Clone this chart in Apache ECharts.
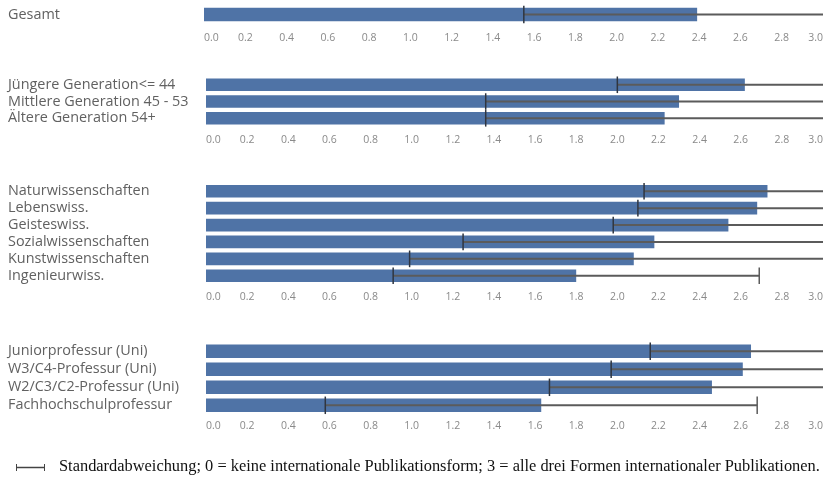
<!DOCTYPE html>
<html><head><meta charset="utf-8">
<script src="https://cdn.jsdelivr.net/npm/echarts@6/dist/echarts.min.js"></script>
<style>html,body{margin:0;padding:0;background:#fff}#c{width:827px;height:479px}</style>
</head><body><div id="c"></div>
<script>
// ---- data ----
var cats1 = ['Gesamt'];
var mean1 = [2.39];
var sd1 = [0.84];
var cats2 = ['Jüngere Generation<= 44', 'Mittlere Generation 45 - 53', 'Ältere Generation 54+'];
var mean2 = [2.62, 2.30, 2.23];
var sd2 = [0.62, 0.94, 0.87];
var cats3 = ['Naturwissenschaften', 'Lebenswiss.', 'Geisteswiss.', 'Sozialwissenschaften', 'Kunstwissenschaften', 'Ingenieurwiss.'];
var mean3 = [2.73, 2.68, 2.54, 2.18, 2.08, 1.80];
var sd3 = [0.60, 0.58, 0.56, 0.93, 1.09, 0.89];
var cats4 = ['Juniorprofessur (Uni)', 'W3/C4-Professur (Uni)', 'W2/C3/C2-Professur (Uni)', 'Fachhochschulprofessur'];
var mean4 = [2.65, 2.61, 2.46, 1.63];
var sd4 = [0.49, 0.64, 0.79, 1.05];
var xMin = 0, xMax = 3, xStep = 0.2;
var legendText = 'Standardabweichung; 0 = keine internationale Publikationsform; 3 = alle drei Formen internationaler Publikationen.';

// ---- layout ----
var groups = [
  {cats: cats1, mean: mean1, sd: sd1, top: 5.5, height: 18, left: 204, margin: 9},
  {cats: cats2, mean: mean2, sd: sd2, top: 76.4, height: 50.3, left: 206, margin: 8},
  {cats: cats3, mean: mean3, sd: sd3, top: 182.8, height: 101.4, left: 206, margin: 7},
  {cats: cats4, mean: mean4, sd: sd4, top: 342.3, height: 72, left: 206, margin: 6}
];
var BAR = '#4f73a6';
var grids = [], xAxes = [], yAxes = [], series = [];

function errRender(params, api) {
  var m = api.value(1), s = api.value(2), idx = api.value(0);
  var cs = params.coordSys;
  var lo = api.coord([m - s, idx]);
  var hi = api.coord([m + s, idx]);
  var band = api.size([0, 1])[1];
  var capH = band * 0.75 + 4;
  var xEnd = Math.min(hi[0], cs.x + cs.width);
  var y = lo[1];
  var children = [
    {type: 'line', shape: {x1: lo[0], y1: y, x2: xEnd, y2: y}, style: {stroke: '#5b5b5b', lineWidth: 2}},
    {type: 'line', shape: {x1: lo[0], y1: y - capH / 2, x2: lo[0], y2: y + capH / 2}, style: {stroke: '#2f3540', lineWidth: 1.5}}
  ];
  if (m + s <= xMax) {
    children.push({type: 'line', shape: {x1: hi[0], y1: y - capH / 2, x2: hi[0], y2: y + capH / 2}, style: {stroke: '#5b5b5b', lineWidth: 1.5}});
  }
  return {type: 'group', children: children};
}

groups.forEach(function (g, i) {
  grids.push({left: g.left, right: 4, top: g.top, height: g.height});
  xAxes.push({
    type: 'value', gridIndex: i, min: xMin, max: xMax, interval: xStep,
    axisLine: {show: false}, axisTick: {show: false}, splitLine: {show: false},
    axisLabel: {
      margin: g.margin, color: '#8a8a8a', fontSize: 10.5, fontFamily: 'Open Sans',
      alignMinLabel: 'left', alignMaxLabel: 'right', hideOverlap: false,
      formatter: function (v) { return v.toFixed(1); }
    }
  });
  yAxes.push({
    type: 'category', gridIndex: i, data: g.cats, inverse: true,
    axisLine: {show: false}, axisTick: {show: false},
    axisLabel: {interval: 0, hideOverlap: false, align: 'left', margin: g.left - 8, color: '#616161', fontSize: 14.4, fontFamily: 'Open Sans'}
  });
  series.push({
    type: 'bar', xAxisIndex: i, yAxisIndex: i, data: g.mean, barCategoryGap: '25%',
    itemStyle: {color: BAR}, silent: true, animation: false
  });
  series.push({
    type: 'custom', xAxisIndex: i, yAxisIndex: i, renderItem: errRender, animation: false, silent: true,
    data: g.mean.map(function (m, k) { return [k, m, g.sd[k]]; }),
    encode: {x: 1, y: 0}, z: 5
  });
});

var chart = echarts.init(document.getElementById('c'), null, {renderer: 'canvas'});
chart.setOption({
  animation: false,
  grid: grids, xAxis: xAxes, yAxis: yAxes, series: series,
  graphic: [
    {type: 'line', shape: {x1: 16, y1: 467.5, x2: 45, y2: 467.5}, style: {stroke: '#444', lineWidth: 1.5}},
    {type: 'line', shape: {x1: 16.5, y1: 464, x2: 16.5, y2: 471}, style: {stroke: '#444', lineWidth: 1}},
    {type: 'line', shape: {x1: 44.5, y1: 464, x2: 44.5, y2: 471}, style: {stroke: '#444', lineWidth: 1}},
    {type: 'text', left: 59, top: 458.5, style: {text: legendText, fill: '#111', font: '16.4px "Liberation Serif"'}}
  ]
});
</script></body></html>
